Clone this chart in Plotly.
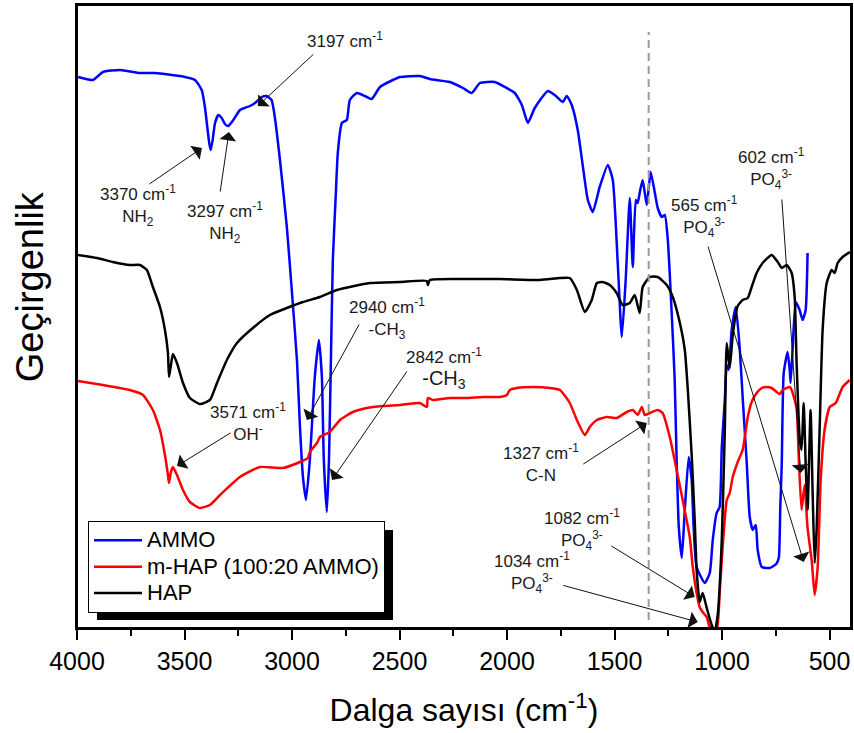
import plotly.graph_objects as go

# ---------------- data (wavenumber cm-1, transmittance a.u.) ----------------
ammo_wn = [3995, 3926, 3879, 3800, 3707, 3637, 3498, 3451, 3420, 3405, 3394, 3385, 3378, 3369,
           3358, 3343, 3327, 3312, 3297, 3273, 3242, 3196, 3172, 3141, 3118, 3095, 3080, 3056,
           3024, 3000, 2977, 2963, 2949, 2935, 2917, 2894, 2875, 2861, 2852, 2838, 2828, 2819,
           2810, 2796, 2787, 2768, 2745, 2731, 2698, 2652, 2629, 2591, 2531, 2498, 2405, 2359,
           2266, 2205, 2164, 2126, 2057, 2010, 1964, 1931, 1903, 1871, 1810, 1778, 1741, 1722,
           1699, 1671, 1648, 1624, 1601, 1569, 1531, 1508, 1485, 1466, 1448, 1429, 1415, 1401,
           1392, 1383, 1369, 1350, 1332, 1313, 1299, 1280, 1266, 1252, 1234, 1220, 1211, 1201,
           1187, 1173, 1155, 1141, 1132, 1118, 1080, 1057, 1043, 1025, 1011, 1001, 987, 978,
           969, 955, 936, 918, 904, 885, 871, 857, 843, 834, 815, 778, 748, 736,
           729, 722, 713, 695, 685, 681, 671, 657, 639, 625, 611, 602]
ammo_t = [551, 548, 556, 558, 555, 555, 551, 548, 538, 521, 501, 485, 478, 488,
          505, 513, 510, 504, 502, 508, 518, 522, 525, 531, 532, 528, 511, 468,
          401, 335, 268, 201, 151, 128, 168, 251, 288, 251, 168, 116, 168, 268,
          368, 435, 475, 505, 508, 528, 535, 531, 529, 541, 548, 551, 552, 549,
          546, 540, 535, 545, 546, 541, 535, 523, 505, 520, 537, 533, 526, 532,
          523, 498, 463, 428, 416, 441, 463, 448, 365, 291, 348, 430, 361, 428,
          425, 435, 448, 423, 456, 436, 420, 411, 413, 388, 315, 248, 168, 101,
          70, 118, 171, 148, 101, 61, 45, 55, 88, 115, 121, 181, 228, 263,
          258, 298, 321, 281, 231, 165, 111, 98, 103, 78, 61, 60, 64, 70,
          120, 165, 255, 276, 258, 245, 281, 326, 318, 308, 318, 375]

mhap_wn = [3995, 3879, 3754, 3693, 3647, 3614, 3591, 3577, 3572, 3563, 3554, 3535, 3507, 3475,
           3428, 3382, 3335, 3242, 3149, 3042, 2963, 2926, 2917, 2884, 2870, 2824, 2777, 2717,
           2652, 2577, 2498, 2405, 2373, 2368, 2345, 2266, 2187, 2112, 2033, 2001, 1987, 1954,
           1880, 1801, 1754, 1741, 1708, 1675, 1638, 1615, 1582, 1536, 1490, 1443, 1415, 1392,
           1373, 1359, 1336, 1299, 1276, 1243, 1211, 1183, 1150, 1136, 1118, 1104, 1090, 1071,
           1057, 1025, 1011, 997, 978, 964, 950, 927, 904, 880, 862, 839, 815, 792,
           769, 732, 718, 685, 676, 653, 643, 630, 616, 602, 583, 569, 555, 541,
           523, 499, 471, 439, 406]
mhap_t = [247, 243, 238, 233, 218, 198, 173, 153, 145, 156, 161, 153, 138, 126,
          120, 123, 133, 151, 161, 160, 166, 170, 176, 185, 191, 196, 208, 216,
          220, 222, 223, 225, 221, 230, 228, 230, 230, 231, 231, 233, 238, 240,
          241, 240, 238, 235, 225, 208, 193, 201, 208, 211, 210, 216, 218, 213,
          221, 213, 215, 218, 215, 191, 158, 128, 91, 61, 35, 21, 16, 11,
          1, -2, 35, 81, 128, 135, 151, 166, 178, 211, 226, 235, 240, 241,
          240, 234, 238, 241, 238, 220, 170, 118, 143, 100, 68, 33, 61, 148,
          198, 221, 225, 241, 248]

hap_wn = [3995, 3907, 3833, 3754, 3707, 3675, 3647, 3614, 3591, 3577, 3572, 3563, 3554, 3535,
          3507, 3475, 3428, 3382, 3349, 3303, 3256, 3182, 3103, 3024, 2949, 2870, 2791, 2638,
          2498, 2373, 2368, 2359, 2187, 2033, 1847, 1754, 1708, 1675, 1638, 1606, 1582, 1555,
          1522, 1490, 1462, 1429, 1406, 1383, 1369, 1336, 1299, 1257, 1229, 1197, 1173, 1159,
          1141, 1127, 1118, 1104, 1090, 1071, 1048, 1034, 1020, 1001, 987, 978, 964, 950,
          927, 904, 880, 862, 839, 811, 769, 741, 722, 699, 676, 662, 653, 639,
          630, 620, 611, 602, 588, 578, 569, 560, 546, 532, 513, 490, 476, 462,
          439, 406]
hap_t = [373, 370, 366, 363, 363, 358, 341, 321, 298, 275, 251, 263, 274, 265,
         245, 230, 224, 228, 245, 268, 285, 300, 313, 320, 326, 331, 338, 345,
         346, 347, 343, 348, 349, 349, 348, 350, 350, 338, 316, 328, 345, 346,
         343, 335, 323, 325, 333, 315, 341, 351, 351, 343, 331, 306, 278, 238,
         173, 108, 58, 26, 35, 20, 3, -4, 13, 88, 198, 285, 260, 293,
         322, 328, 330, 341, 355, 365, 373, 366, 360, 363, 355, 331, 265, 191,
         178, 225, 165, 118, 218, 131, 65, 98, 198, 298, 345, 358, 355, 365,
         371, 376]

series_names = ["AMMO", "m-HAP (100:20 AMMO)", "HAP"]
series_colors = ["#0000FF", "#FF0000", "#000000"]

x_tickvals = [4000, 3500, 3000, 2500, 2000, 1500, 1000, 500]
x_ticktext = ["4000", "3500", "3000", "2500", "2000", "1500", "1000", "500"]

# band labels: text, label centre (wn, T), arrow tail (wn, T), arrow tip (wn, T)
label_texts = [
    "3370 cm<sup>-1</sup><br>NH<sub>2</sub>",
    "3297 cm<sup>-1</sup><br>NH<sub>2</sub>",
    "3197 cm<sup>-1</sup>",
    "2940 cm<sup>-1</sup><br>-CH<sub>3</sub>",
    "2842 cm<sup>-1</sup><br><span style='font-size:20px'>-CH<sub>3</sub></span>",
    "3571 cm<sup>-1</sup><br>OH<sup>-</sup>",
    "1327 cm<sup>-1</sup><br>C-N",
    "1082 cm<sup>-1</sup><br>PO<sub>4</sub><sup>3-</sup>",
    "1034 cm<sup>-1</sup><br>PO<sub>4</sub><sup>3-</sup>",
    "565 cm<sup>-1</sup><br>PO<sub>4</sub><sup>3-</sup>",
    "602 cm<sup>-1</sup><br>PO<sub>4</sub><sup>3-</sup>",
]
label_wn = [3716, 3312, 2754, 2559, 2294, 3205, 1843, 1652, 1885, 1080, 769]
label_t = [423, 406, 588, 310, 260, 206, 165, 99, 56, 412, 460]
tail_wn = [3670, 3335, 2894, 2684, 2461, 3279, 1652, 1522, 1745, 1067, 722]
tail_t = [443, 435, 575, 305, 258, 196, 163, 83, 43, 383, 430]
tip_wn = [3419, 3293, 3159, 2931, 2814, 3535, 1350, 1127, 1113, 620, 634]
tip_t = [480, 496, 522, 208, 148, 162, 205, 31, 6, 66, 155]

cn_line_wn = 1341
cn_line_t = [8, 596]

FONT = "Arial, Liberation Sans, sans-serif"

fig = go.Figure()
for wn, t, name, col in [(ammo_wn, ammo_t, series_names[0], series_colors[0]),
                         (mhap_wn, mhap_t, series_names[1], series_colors[1]),
                         (hap_wn, hap_t, series_names[2], series_colors[2])]:
    fig.add_trace(go.Scatter(x=wn, y=t, mode="lines",
                             name='<span style="font-size:22px">' + name + '</span>',
                             line=dict(color=col, width=2.5, shape="spline", smoothing=0.5)))

# dashed reference line at the C-N band
fig.add_shape(type="line", xref="x", yref="y", x0=cn_line_wn, x1=cn_line_wn,
              y0=cn_line_t[0], y1=cn_line_t[1],
              line=dict(color="#9A9A9A", width=2, dash="8px,5px"))

# frame around the plot area
fig.add_shape(type="rect", xref="paper", yref="paper", x0=0, x1=1, y0=0, y1=1,
              line=dict(color="black", width=2), fillcolor="rgba(0,0,0,0)", layer="above")

for txt, lx, ly in zip(label_texts, label_wn, label_t):
    fig.add_annotation(x=lx, y=ly, xref="x", yref="y", text=txt, showarrow=False,
                       font=dict(family=FONT, size=17, color="#1a1a1a"), align="center")
for ax_, ay_, x_, y_ in zip(tail_wn, tail_t, tip_wn, tip_t):
    fig.add_annotation(x=x_, y=y_, ax=ax_, ay=ay_, xref="x", yref="y", axref="x", ayref="y",
                       text="", showarrow=True, arrowhead=1, arrowsize=2.8, arrowwidth=1,
                       arrowcolor="#111111", standoff=0, startstandoff=0)

# y-axis title
fig.add_annotation(x=-0.0607, y=0.547, xref="paper", yref="paper", text="Geçirgenlik",
                   textangle=-90, showarrow=False, xanchor="center", yanchor="middle",
                   font=dict(family=FONT, size=38, color="black"))

# legend shadow
fig.add_shape(type="rect", xref="paper", yref="paper", x0=0.0258, x1=0.4083, y0=0.0128, y1=0.1573,
              fillcolor="black", line=dict(width=0), layer="above")

fig.update_layout(
    width=854, height=733,
    margin=dict(l=77, r=3, t=5, b=105, autoexpand=False),
    paper_bgcolor="white", plot_bgcolor="white",
    font=dict(family=FONT, color="black"),
    showlegend=True,
    legend=dict(x=0.0142, y=0.1717, xanchor="left", yanchor="top",
                bgcolor="white", bordercolor="black", borderwidth=1,
                font=dict(family=FONT, size=18), tracegroupgap=0, itemwidth=48),
)
fig.update_xaxes(range=[4000, 400], tickvals=x_tickvals, ticktext=x_ticktext,
                 ticks="outside", ticklen=10, tickwidth=2, tickcolor="black",
                 minor=dict(dtick=250, ticks="outside", ticklen=6, tickwidth=2, tickcolor="black"),
                 showline=True, linewidth=2, linecolor="black", mirror=True,
                 showgrid=False, zeroline=False, ticklabelstandoff=0, automargin=False,
                 tickfont=dict(family=FONT, size=25),
                 title=dict(text="Dalga sayısı (cm<sup>-1</sup>)", font=dict(family=FONT, size=32),
                            standoff=25))
fig.update_yaxes(range=[0, 623], showticklabels=False, ticks="",
                 showline=True, linewidth=2, linecolor="black", mirror=True,
                 showgrid=False, zeroline=False, automargin=False)

fig.write_html("out.html", config={"displayModeBar": False},
               post_script="document.body.style.margin='0';document.body.style.overflow='hidden';")
